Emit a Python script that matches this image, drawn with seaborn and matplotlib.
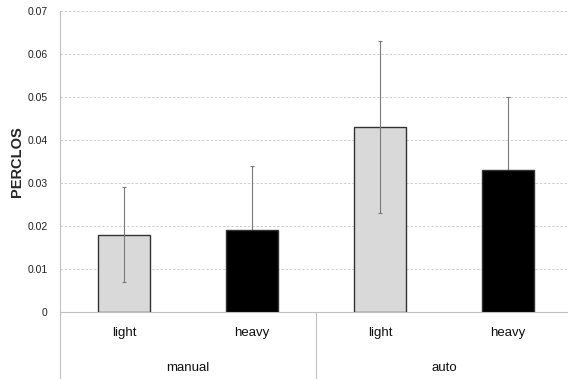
import matplotlib
matplotlib.use("Agg")
import matplotlib.pyplot as plt
import seaborn as sns
import pandas as pd

groups = ["manual", "manual", "auto", "auto"]
loads = ["light", "heavy", "light", "heavy"]
perclos = [0.018, 0.019, 0.043, 0.033]
errors = [0.011, 0.015, 0.020, 0.017]
yticks = [0, 0.01, 0.02, 0.03, 0.04, 0.05, 0.06, 0.07]
ytick_labels = ["0", "0.01", "0.02", "0.03", "0.04", "0.05", "0.06", "0.07"]
group_names = ["manual", "auto"]

sns.set_theme(style="white")
plt.rcParams["font.family"] = ["Liberation Sans", "DejaVu Sans"]

df = pd.DataFrame({
    "cond": [f"{g} {l}" for g, l in zip(groups, loads)],
    "load": loads,
    "perclos": perclos,
})

fig = plt.figure(figsize=(5.68, 3.79), dpi=100)
ax = fig.add_axes([60 / 568, 67 / 379, 1 - 60 / 568, 301 / 379])

sns.barplot(data=df, x="cond", y="perclos", hue="load", dodge=False,
            palette={"light": "#d9d9d9", "heavy": "#000000"},
            width=0.41, edgecolor="#333333", linewidth=1.0,
            errorbar=None, legend=False, ax=ax, zorder=3)

for i, (v, e, l) in enumerate(zip(perclos, errors, loads)):
    ax.errorbar(i, v, yerr=e, fmt="none", ecolor="#7a7a7a", elinewidth=0.8,
                capsize=1.5, capthick=0.8, zorder=4 if l == "light" else 2)

ax.set_ylim(0, 0.07)
ax.set_xlim(-0.5, 3.47)
ax.set_yticks(yticks)
ax.set_yticklabels(ytick_labels, fontsize=7.5, color="#222222")
ax.set_xticks(range(len(loads)))
ax.set_xticklabels(loads, fontsize=9.5, color="#111111")
ax.tick_params(axis="both", length=0)
ax.tick_params(axis="y", pad=9)
ax.tick_params(axis="x", pad=11)
ax.set_xlabel("")
ax.set_ylabel("PERCLOS", fontsize=10.5, fontweight="bold")
ax.yaxis.set_label_coords(-0.071, 0.5)

ax.yaxis.grid(True, linestyle=(0, (3, 2)), color="#c8c8c8", linewidth=0.6, zorder=0)
ax.set_axisbelow(True)
for s in ["top", "right"]:
    ax.spines[s].set_visible(False)
ax.spines["left"].set_color("#c0c0c0")
ax.spines["bottom"].set_color("#c0c0c0")
ax.spines["left"].set_linewidth(0.8)
ax.spines["bottom"].set_linewidth(0.8)

ext = -67 / 301
ax.axvline(-0.5, ymin=ext, ymax=0, color="#c0c0c0", linewidth=0.8, clip_on=False)
ax.axvline(1.5, ymin=ext, ymax=0, color="#c0c0c0", linewidth=0.8, clip_on=False)

trans = ax.get_xaxis_transform()
for k, name in enumerate(group_names):
    ax.text(0.5 + 2 * k, -56 / 301, name, transform=trans, ha="center",
            va="center", fontsize=9.5, color="#111111", clip_on=False)

fig.savefig("out.png", dpi=100)
